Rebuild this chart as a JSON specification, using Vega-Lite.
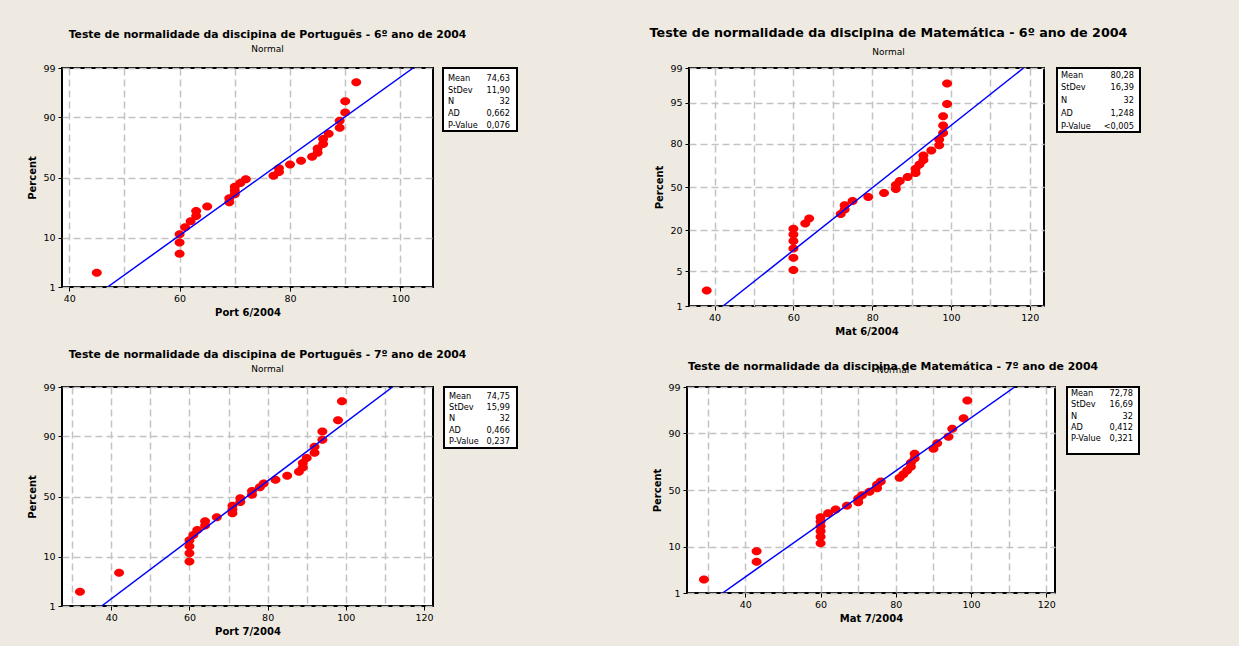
{
  "$schema": "https://vega.github.io/schema/vega-lite/v6.json",
  "background": "#eeeae1",
  "padding": {"left": 26, "top": 26, "right": 98, "bottom": 8},
  "autosize": {"type": "pad"},
  "datasets": {
    "port6": [
      {"score": 45, "z": -2.0217}, {"score": 60, "z": -1.6214}, {"score": 60, "z": -1.383}, {"score": 60, "z": -1.2045},
      {"score": 61, "z": -1.0579}, {"score": 62, "z": -0.931}, {"score": 63, "z": -0.8176}, {"score": 63, "z": -0.7139},
      {"score": 65, "z": -0.6173}, {"score": 69, "z": -0.5262}, {"score": 69, "z": -0.4392}, {"score": 70, "z": -0.3555},
      {"score": 70, "z": -0.2742}, {"score": 70, "z": -0.1946}, {"score": 71, "z": -0.1163}, {"score": 72, "z": -0.0387},
      {"score": 77, "z": 0.0387}, {"score": 78, "z": 0.1163}, {"score": 78, "z": 0.1946}, {"score": 80, "z": 0.2742},
      {"score": 82, "z": 0.3555}, {"score": 84, "z": 0.4392}, {"score": 85, "z": 0.5262}, {"score": 85, "z": 0.6173},
      {"score": 86, "z": 0.7139}, {"score": 86, "z": 0.8176}, {"score": 87, "z": 0.931}, {"score": 89, "z": 1.0579},
      {"score": 89, "z": 1.2045}, {"score": 90, "z": 1.383}, {"score": 90, "z": 1.6214}, {"score": 92, "z": 2.0217}
    ],
    "mat6": [
      {"score": 38, "z": -2.0217}, {"score": 60, "z": -1.6214}, {"score": 60, "z": -1.383}, {"score": 60, "z": -1.2045},
      {"score": 60, "z": -1.0579}, {"score": 60, "z": -0.931}, {"score": 60, "z": -0.8176}, {"score": 63, "z": -0.7139},
      {"score": 64, "z": -0.6173}, {"score": 72, "z": -0.5262}, {"score": 73, "z": -0.4392}, {"score": 73, "z": -0.3555},
      {"score": 75, "z": -0.2742}, {"score": 79, "z": -0.1946}, {"score": 83, "z": -0.1163}, {"score": 86, "z": -0.0387},
      {"score": 86, "z": 0.0387}, {"score": 87, "z": 0.1163}, {"score": 89, "z": 0.1946}, {"score": 91, "z": 0.2742},
      {"score": 91, "z": 0.3555}, {"score": 92, "z": 0.4392}, {"score": 93, "z": 0.5262}, {"score": 93, "z": 0.6173},
      {"score": 95, "z": 0.7139}, {"score": 97, "z": 0.8176}, {"score": 97, "z": 0.931}, {"score": 98, "z": 1.0579},
      {"score": 98, "z": 1.2045}, {"score": 98, "z": 1.383}, {"score": 99, "z": 1.6214}, {"score": 99, "z": 2.0217}
    ],
    "port7": [
      {"score": 32, "z": -2.0217}, {"score": 42, "z": -1.6214}, {"score": 60, "z": -1.383}, {"score": 60, "z": -1.2045},
      {"score": 60, "z": -1.0579}, {"score": 60, "z": -0.931}, {"score": 61, "z": -0.8176}, {"score": 62, "z": -0.7139},
      {"score": 64, "z": -0.6173}, {"score": 64, "z": -0.5262}, {"score": 67, "z": -0.4392}, {"score": 71, "z": -0.3555},
      {"score": 71, "z": -0.2742}, {"score": 71, "z": -0.1946}, {"score": 73, "z": -0.1163}, {"score": 73, "z": -0.0387},
      {"score": 76, "z": 0.0387}, {"score": 76, "z": 0.1163}, {"score": 78, "z": 0.1946}, {"score": 79, "z": 0.2742},
      {"score": 82, "z": 0.3555}, {"score": 85, "z": 0.4392}, {"score": 88, "z": 0.5262}, {"score": 89, "z": 0.6173},
      {"score": 89, "z": 0.7139}, {"score": 90, "z": 0.8176}, {"score": 92, "z": 0.931}, {"score": 92, "z": 1.0579},
      {"score": 94, "z": 1.2045}, {"score": 94, "z": 1.383}, {"score": 98, "z": 1.6214}, {"score": 99, "z": 2.0217}
    ],
    "mat7": [
      {"score": 29, "z": -2.0217}, {"score": 43, "z": -1.6214}, {"score": 43, "z": -1.383}, {"score": 60, "z": -1.2045},
      {"score": 60, "z": -1.0579}, {"score": 60, "z": -0.931}, {"score": 60, "z": -0.8176}, {"score": 60, "z": -0.7139},
      {"score": 60, "z": -0.6173}, {"score": 62, "z": -0.5262}, {"score": 64, "z": -0.4392}, {"score": 67, "z": -0.3555},
      {"score": 70, "z": -0.2742}, {"score": 70, "z": -0.1946}, {"score": 71, "z": -0.1163}, {"score": 73, "z": -0.0387},
      {"score": 75, "z": 0.0387}, {"score": 75, "z": 0.1163}, {"score": 76, "z": 0.1946}, {"score": 81, "z": 0.2742},
      {"score": 82, "z": 0.3555}, {"score": 83, "z": 0.4392}, {"score": 84, "z": 0.5262}, {"score": 84, "z": 0.6173},
      {"score": 85, "z": 0.7139}, {"score": 85, "z": 0.8176}, {"score": 90, "z": 0.931}, {"score": 91, "z": 1.0579},
      {"score": 94, "z": 1.2045}, {"score": 95, "z": 1.383}, {"score": 98, "z": 1.6214}, {"score": 99, "z": 2.0217}
    ],
    "port6fit": [{"score": 46.95, "z": -2.3263}, {"score": 102.31, "z": 2.3263}],
    "mat6fit": [{"score": 42.15, "z": -2.3263}, {"score": 118.41, "z": 2.3263}],
    "port7fit": [{"score": 37.55, "z": -2.3263}, {"score": 111.95, "z": 2.3263}],
    "mat7fit": [{"score": 33.95, "z": -2.3263}, {"score": 111.61, "z": 2.3263}],
    "st_p6": [
      {"row": 0, "stat": "Mean", "val": "74,63"}, {"row": 1, "stat": "StDev", "val": "11,90"}, {"row": 2, "stat": "N", "val": "32"},
      {"row": 3, "stat": "AD", "val": "0,662"}, {"row": 4, "stat": "P-Value", "val": "0,076"}
    ],
    "st_m6": [
      {"row": 0, "stat": "Mean", "val": "80,28"}, {"row": 1, "stat": "StDev", "val": "16,39"}, {"row": 2, "stat": "N", "val": "32"},
      {"row": 3, "stat": "AD", "val": "1,248"}, {"row": 4, "stat": "P-Value", "val": "<0,005"}
    ],
    "st_p7": [
      {"row": 0, "stat": "Mean", "val": "74,75"}, {"row": 1, "stat": "StDev", "val": "15,99"}, {"row": 2, "stat": "N", "val": "32"},
      {"row": 3, "stat": "AD", "val": "0,466"}, {"row": 4, "stat": "P-Value", "val": "0,237"}
    ],
    "st_m7": [
      {"row": 0, "stat": "Mean", "val": "72,78"}, {"row": 1, "stat": "StDev", "val": "16,69"}, {"row": 2, "stat": "N", "val": "32"},
      {"row": 3, "stat": "AD", "val": "0,412"}, {"row": 4, "stat": "P-Value", "val": "0,321"}
    ]
  },
  "spacing": 10,
  "vconcat": [
    {
      "spacing": 130,
      "hconcat": [
        {
          "spacing": 10, "bounds": "flush",
          "hconcat": [
            {
              "width": 371, "height": 219,
              "title": {"text": "Teste de normalidade da discipina de Português - 6º ano de 2004", "subtitle": "Normal", "dx": 20, "fontSize": 10.8, "subtitlePadding": 5, "offset": 9},
              "layer": [
                {
                  "data": {"name": "port6"},
                  "mark": {"type": "point", "shape": "M -1 0 A 1 0.8 0 1 0 1 0 A 1 0.8 0 1 0 -1 0 Z", "filled": true, "color": "#ff0000", "opacity": 1, "size": 100},
                  "encoding": {
                    "x": {"field": "score", "type": "quantitative", "scale": {"domain": [38.7, 105.9], "nice": false, "zero": false},
                          "axis": {"title": "Port 6/2004", "values": [40, 50, 60, 70, 80, 90, 100], "labelExpr": "datum.value % 20 == 0 ? datum.label : ''", "tickOpacity": {"condition": {"test": "datum.value % 20 == 0", "value": 1}, "value": 0}}},
                    "y": {"field": "z", "type": "quantitative", "scale": {"domain": [-2.3263, 2.3263], "nice": false, "zero": false},
                          "axis": {"title": "Percent", "values": [-2.3263, -1.2816, 0, 1.2816, 2.3263], "labelExpr": "format(cumulativeNormal(datum.value) * 100, '.0f')"}}
                  }
                },
                {
                  "data": {"name": "port6fit"},
                  "mark": {"type": "line", "color": "#0000ff", "strokeWidth": 1.5, "clip": true},
                  "encoding": {"x": {"field": "score", "type": "quantitative"}, "y": {"field": "z", "type": "quantitative"}}
                }
              ]
            },
            {
              "width": 74, "height": 63,
              "data": {"name": "st_p6"},
              "encoding": {"y": {"field": "row", "type": "quantitative", "scale": {"domain": [-0.905, 4.42], "reverse": true, "nice": false, "zero": false}, "axis": null}},
              "layer": [
                {"mark": {"type": "text", "align": "left", "dx": 5, "fontSize": 8.2, "color": "#000"},
                 "encoding": {"x": {"datum": 0, "type": "quantitative", "scale": {"domain": [0, 1], "nice": false}, "axis": null}, "text": {"field": "stat"}}},
                {"mark": {"type": "text", "align": "right", "dx": -7, "fontSize": 8.2, "color": "#000"},
                 "encoding": {"x": {"datum": 1, "type": "quantitative"}, "text": {"field": "val"}}}
              ]
            }
          ]
        },
        {
          "spacing": 13, "bounds": "flush",
          "hconcat": [
            {
              "width": 355, "height": 238,
              "title": {"text": "Teste de normalidade da discipina de Matemática - 6º ano de 2004", "subtitle": "Normal", "dx": 22, "fontSize": 12.7, "subtitlePadding": 8, "offset": 6},
              "layer": [
                {
                  "data": {"name": "mat6"},
                  "mark": {"type": "point", "shape": "M -1 0 A 1 0.8 0 1 0 1 0 A 1 0.8 0 1 0 -1 0 Z", "filled": true, "color": "#ff0000", "opacity": 1, "size": 100},
                  "encoding": {
                    "x": {"field": "score", "type": "quantitative", "scale": {"domain": [33.5, 123.6], "nice": false, "zero": false},
                          "axis": {"title": "Mat 6/2004", "values": [40, 50, 60, 70, 80, 90, 100, 110, 120], "labelExpr": "datum.value % 20 == 0 ? datum.label : ''", "tickOpacity": {"condition": {"test": "datum.value % 20 == 0", "value": 1}, "value": 0}}},
                    "y": {"field": "z", "type": "quantitative", "scale": {"domain": [-2.3263, 2.3263], "nice": false, "zero": false},
                          "axis": {"title": "Percent", "values": [-2.3263, -1.6449, -0.8416, 0, 0.8416, 1.6449, 2.3263], "labelExpr": "format(cumulativeNormal(datum.value) * 100, '.0f')"}}
                  }
                },
                {
                  "data": {"name": "mat6fit"},
                  "mark": {"type": "line", "color": "#0000ff", "strokeWidth": 1.5, "clip": true},
                  "encoding": {"x": {"field": "score", "type": "quantitative"}, "y": {"field": "z", "type": "quantitative"}}
                }
              ]
            },
            {
              "width": 83, "height": 64,
              "data": {"name": "st_m6"},
              "encoding": {"y": {"field": "row", "type": "quantitative", "scale": {"domain": [-0.6, 4.4], "reverse": true, "nice": false, "zero": false}, "axis": null}},
              "layer": [
                {"mark": {"type": "text", "align": "left", "dx": 4, "fontSize": 8.2, "color": "#000"},
                 "encoding": {"x": {"datum": 0, "type": "quantitative", "scale": {"domain": [0, 1], "nice": false}, "axis": null}, "text": {"field": "stat"}}},
                {"mark": {"type": "text", "align": "right", "dx": -6, "fontSize": 8.2, "color": "#000"},
                 "encoding": {"x": {"datum": 1, "type": "quantitative"}, "text": {"field": "val"}}}
              ]
            }
          ]
        }
      ]
    },
    {
      "spacing": 133,
      "hconcat": [
        {
          "spacing": 11, "bounds": "flush",
          "hconcat": [
            {
              "width": 371, "height": 219,
              "title": {"text": "Teste de normalidade da discipina de Português - 7º ano de 2004", "subtitle": "Normal", "dx": 20, "fontSize": 10.8, "subtitlePadding": 5, "offset": 8},
              "layer": [
                {
                  "data": {"name": "port7"},
                  "mark": {"type": "point", "shape": "M -1 0 A 1 0.8 0 1 0 1 0 A 1 0.8 0 1 0 -1 0 Z", "filled": true, "color": "#ff0000", "opacity": 1, "size": 100},
                  "encoding": {
                    "x": {"field": "score", "type": "quantitative", "scale": {"domain": [27.4, 122.3], "nice": false, "zero": false},
                          "axis": {"title": "Port 7/2004", "values": [30, 40, 50, 60, 70, 80, 90, 100, 110, 120], "labelExpr": "datum.value % 20 == 0 ? datum.label : ''", "tickOpacity": {"condition": {"test": "datum.value % 20 == 0", "value": 1}, "value": 0}}},
                    "y": {"field": "z", "type": "quantitative", "scale": {"domain": [-2.3263, 2.3263], "nice": false, "zero": false},
                          "axis": {"title": "Percent", "values": [-2.3263, -1.2816, 0, 1.2816, 2.3263], "labelExpr": "format(cumulativeNormal(datum.value) * 100, '.0f')"}}
                  }
                },
                {
                  "data": {"name": "port7fit"},
                  "mark": {"type": "line", "color": "#0000ff", "strokeWidth": 1.5, "clip": true},
                  "encoding": {"x": {"field": "score", "type": "quantitative"}, "y": {"field": "z", "type": "quantitative"}}
                }
              ]
            },
            {
              "width": 73, "height": 61,
              "data": {"name": "st_p7"},
              "encoding": {"y": {"field": "row", "type": "quantitative", "scale": {"domain": [-0.88, 4.55], "reverse": true, "nice": false, "zero": false}, "axis": null}},
              "layer": [
                {"mark": {"type": "text", "align": "left", "dx": 5, "fontSize": 8.2, "color": "#000"},
                 "encoding": {"x": {"datum": 0, "type": "quantitative", "scale": {"domain": [0, 1], "nice": false}, "axis": null}, "text": {"field": "stat"}}},
                {"mark": {"type": "text", "align": "right", "dx": -7, "fontSize": 8.2, "color": "#000"},
                 "encoding": {"x": {"datum": 1, "type": "quantitative"}, "text": {"field": "val"}}}
              ]
            }
          ]
        },
        {
          "spacing": 12, "bounds": "flush",
          "hconcat": [
            {
              "width": 368, "height": 206,
              "title": {"text": "Teste de normalidade da discipina de Matemática - 7º ano de 2004", "subtitle": "Normal", "dx": 22, "fontSize": 10.9, "subtitlePadding": -6, "offset": 7},
              "layer": [
                {
                  "data": {"name": "mat7"},
                  "mark": {"type": "point", "shape": "M -1 0 A 1 0.8 0 1 0 1 0 A 1 0.8 0 1 0 -1 0 Z", "filled": true, "color": "#ff0000", "opacity": 1, "size": 100},
                  "encoding": {
                    "x": {"field": "score", "type": "quantitative", "scale": {"domain": [24.5, 122.3], "nice": false, "zero": false},
                          "axis": {"title": "Mat 7/2004", "values": [30, 40, 50, 60, 70, 80, 90, 100, 110, 120], "labelExpr": "datum.value % 20 == 0 ? datum.label : ''", "tickOpacity": {"condition": {"test": "datum.value % 20 == 0", "value": 1}, "value": 0}}},
                    "y": {"field": "z", "type": "quantitative", "scale": {"domain": [-2.3263, 2.3263], "nice": false, "zero": false},
                          "axis": {"title": "Percent", "values": [-2.3263, -1.2816, 0, 1.2816, 2.3263], "labelExpr": "format(cumulativeNormal(datum.value) * 100, '.0f')"}}
                  }
                },
                {
                  "data": {"name": "mat7fit"},
                  "mark": {"type": "line", "color": "#0000ff", "strokeWidth": 1.5, "clip": true},
                  "encoding": {"x": {"field": "score", "type": "quantitative"}, "y": {"field": "z", "type": "quantitative"}}
                }
              ]
            },
            {
              "width": 72, "height": 67,
              "data": {"name": "st_m7"},
              "encoding": {"y": {"field": "row", "type": "quantitative", "scale": {"domain": [-0.65, 5.33], "reverse": true, "nice": false, "zero": false}, "axis": null}},
              "layer": [
                {"mark": {"type": "text", "align": "left", "dx": 4, "fontSize": 8.2, "color": "#000"},
                 "encoding": {"x": {"datum": 0, "type": "quantitative", "scale": {"domain": [0, 1], "nice": false}, "axis": null}, "text": {"field": "stat"}}},
                {"mark": {"type": "text", "align": "right", "dx": -6, "fontSize": 8.2, "color": "#000"},
                 "encoding": {"x": {"datum": 1, "type": "quantitative"}, "text": {"field": "val"}}}
              ]
            }
          ]
        }
      ]
    }
  ],
  "config": {
    "font": "DejaVu Sans",
    "view": {"stroke": "#000000", "strokeWidth": 2, "fill": "#ffffff"},
    "text": {"font": "DejaVu Sans"},
    "title": {"font": "DejaVu Sans", "fontWeight": "bold", "color": "#000000", "anchor": "middle", "frame": "group", "subtitleFont": "DejaVu Sans", "subtitleFontSize": 9, "subtitleColor": "#000000"},
    "axis": {"domain": false, "grid": true, "gridColor": "#c3c3c3", "gridDash": [7, 4], "gridWidth": 1.5, "tickColor": "#000000", "tickSize": 4, "tickWidth": 1, "tickCount": 30, "labelFont": "DejaVu Sans", "labelFontSize": 9.5, "labelColor": "#000000", "titleFont": "DejaVu Sans", "titleFontSize": 10, "titleFontWeight": "bold", "titleColor": "#000000", "labelFlush": false, "labelOverlap": false},
    "axisX": {"labelPadding": 2, "titlePadding": 5},
    "axisY": {"labelPadding": 3, "titlePadding": 5}
  }
}
